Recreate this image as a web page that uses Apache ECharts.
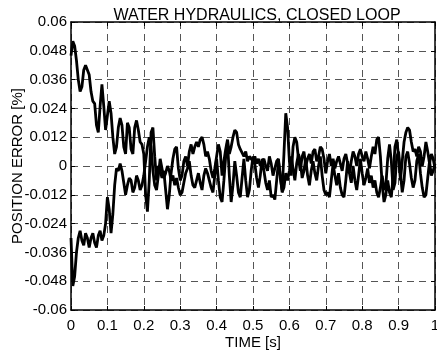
<!DOCTYPE html>
<html>
<head>
<meta charset="utf-8">
<script src="https://cdn.jsdelivr.net/npm/echarts@6/dist/echarts.min.js"></script>
<style>
  html, body { margin: 0; padding: 0; background: #fff; }
  #chart { width: 437px; height: 353px; }
</style>
</head>
<body>
<div id="chart"></div>
<script>
// Closed-loop position error of the water hydraulic servo, sampled every 5 ms
const sampleStep = 0.005;

// Response that starts above the set point
const errorFromAbove = [
  0.046, 0.052, 0.050, 0.044, 0.036, 0.031, 0.033, 0.040, 0.042, 0.040,
  0.038, 0.031, 0.027, 0.026, 0.017, 0.014, 0.025, 0.034, 0.025, 0.015,
  0.021, 0.027, 0.022, 0.012, 0.005, 0.008, 0.016, 0.020, 0.017, 0.008,
  0.005, 0.018, 0.016, 0.007, 0.005, 0.016, 0.019, 0.015, 0.010, 0.009,
  0.005, -0.012, -0.019, -0.006, 0.014, 0.016, 0.004, -0.006, 0.000, -0.002,
  -0.005, -0.002, -0.010, -0.018, -0.012, -0.003, 0.003, 0.007, 0.008, -0.001,
  -0.006, -0.004, 0.002, 0.004, 0.000, 0.006, 0.009, 0.005, 0.008, 0.010,
  0.008, 0.011, 0.012, 0.009, 0.004, 0.006, 0.003, -0.002, -0.005, -0.001,
  0.004, 0.009, 0.006, -0.004, 0.002, 0.007, 0.011, 0.005, 0.008, 0.012,
  0.015, 0.014, 0.009, 0.007, 0.007, 0.004, 0.006, 0.002, 0.004, 0.003,
  0.002, 0.004, 0.001, 0.003, 0.000, 0.002, 0.003, 0.000, -0.002, 0.004,
  0.001, -0.004, -0.001, 0.002, 0.003, -0.005, -0.010, 0.005, 0.022, 0.016,
  0.002, -0.004, 0.008, 0.012, 0.010, 0.003, -0.002, 0.004, 0.006, 0.000,
  0.003, 0.005, 0.001, 0.006, 0.007, 0.002, 0.004, 0.008, 0.007, 0.003,
  -0.003, 0.002, 0.005, 0.000, 0.003, -0.001, 0.002, 0.004, 0.001, -0.002,
  0.003, 0.005, 0.001, -0.003, 0.002, 0.006, 0.004, 0.000, 0.005, 0.007,
  0.004, 0.002, 0.006, 0.003, -0.001, 0.004, 0.008, 0.005, 0.011, 0.012,
  0.004, -0.008, -0.015, -0.012, -0.006, -0.011, -0.013, -0.004, 0.008, 0.011,
  0.004, -0.006, 0.002, 0.010, 0.014, 0.016, 0.015, 0.010, 0.006, 0.007,
  0.004, 0.008, 0.006, 0.000, 0.004, 0.010, 0.006, 0.001, 0.005, 0.003,
  -0.001
];

// Response that starts below the set point
const errorFromBelow = [
  -0.030, -0.050, -0.046, -0.036, -0.030, -0.027, -0.031, -0.033, -0.028, -0.030,
  -0.034, -0.030, -0.028, -0.032, -0.034, -0.029, -0.027, -0.031, -0.029, -0.024,
  -0.013, -0.018, -0.028, -0.020, -0.008, -0.001, -0.002, 0.001, -0.002, -0.007,
  -0.012, -0.008, -0.005, -0.006, -0.011, -0.009, -0.004, -0.006, -0.010, -0.008,
  -0.004, 0.002, 0.008, 0.012, 0.008, -0.002, -0.008, -0.010, -0.004, 0.003,
  -0.001, -0.005, -0.003, 0.000, -0.002, -0.006, -0.004, -0.008, -0.005, -0.009,
  -0.012, -0.011, -0.007, -0.003, -0.001, 0.002, -0.004, -0.008, -0.009, -0.006,
  -0.003, -0.007, -0.010, -0.004, -0.001, -0.003, -0.006, -0.009, -0.011, -0.004,
  0.003, -0.006, -0.013, -0.015, -0.006, 0.004, 0.010, -0.004, -0.015, -0.008,
  0.002, -0.004, -0.011, -0.013, -0.005, 0.003, -0.006, -0.013, -0.010, -0.002,
  0.004, 0.001, -0.005, -0.009, -0.004, 0.003, -0.002, -0.007, -0.010, -0.006,
  -0.013, -0.012, -0.014, -0.006, 0.002, -0.004, -0.011, -0.009, -0.003, -0.006,
  -0.002, 0.004, -0.001, -0.006, 0.001, 0.005, 0.002, -0.005, -0.002, 0.003,
  -0.004, -0.008, -0.002, 0.002, -0.003, -0.006, 0.000, 0.004, -0.004, -0.010,
  -0.012, -0.011, -0.013, -0.006, 0.001, -0.004, -0.008, -0.003, -0.009, -0.012,
  -0.013, -0.006, 0.002, -0.003, -0.007, 0.000, -0.006, -0.010, -0.004, 0.003,
  -0.003, -0.008, -0.005, -0.001, -0.007, -0.004, -0.009, -0.006, -0.011, -0.013,
  -0.009, -0.004, -0.010, -0.008, 0.003, 0.009, 0.002, -0.010, -0.007, 0.004,
  0.006, -0.003, -0.011, -0.006, 0.004, 0.006, 0.001, -0.005, -0.009, -0.006,
  0.002, 0.005, -0.003, -0.009, -0.013, -0.012, -0.005, 0.002, -0.004, -0.002,
  0.001
];

// Axis ticks
const timeTicks = ['0', '0.1', '0.2', '0.3', '0.4', '0.5', '0.6', '0.7', '0.8', '0.9', '1'];
const errorTicks = ['-0.06', '-0.048', '-0.036', '-0.024', '-0.012', '0', '0.012', '0.024', '0.036', '0.048', '0.06'];

const toPairs = vals => vals.map((v, i) => [+(i * sampleStep).toFixed(3), v]);

const FONT = '"Liberation Sans", Arial, sans-serif';
const gridDash = { color: '#555', width: 1, type: [7, 5] };

const chart = echarts.init(document.getElementById('chart'), null, { renderer: 'canvas' });

const baseX = {
  type: 'value', min: 0, max: 1, interval: 0.1,
  axisLine: { show: true, onZero: false, lineStyle: { color: '#000', width: 1.5 } },
  axisTick: { show: true, inside: true, length: 4, lineStyle: { color: '#000' } },
};
const baseY = {
  type: 'value', min: -0.06, max: 0.06, interval: 0.012,
  axisLine: { show: true, onZero: false, lineStyle: { color: '#000', width: 1.5 } },
  axisTick: { show: true, inside: true, length: 4, lineStyle: { color: '#000' } },
};

chart.setOption({
  animation: false,
  backgroundColor: '#fff',
  title: {
    text: 'WATER HYDRAULICS, CLOSED LOOP',
    left: 252, top: 3, textAlign: 'center',
    textStyle: { fontFamily: FONT, fontSize: 16, fontWeight: 'normal', color: '#000' }
  },
  grid: {
    left: 71, top: 22, width: 364, height: 288,
    containLabel: false, outerBoundsMode: 'none'
  },
  xAxis: [
    Object.assign({}, baseX, {
      position: 'bottom',
      name: 'TIME [s]', nameLocation: 'middle', nameGap: 25, nameMoveOverlap: false,
      nameTextStyle: { fontFamily: FONT, fontSize: 15, color: '#000' },
      axisLabel: {
        fontFamily: FONT, fontSize: 15, color: '#000', margin: 8,
        formatter: v => timeTicks[Math.round(v * 10)]
      },
      splitLine: { show: true, lineStyle: gridDash }
    }),
    Object.assign({}, baseX, {
      position: 'top',
      axisLabel: { show: false }, splitLine: { show: false }
    })
  ],
  yAxis: [
    Object.assign({}, baseY, {
      position: 'left',
      name: 'POSITION ERROR [%]', nameLocation: 'middle', nameGap: 46, nameMoveOverlap: false,
      nameTextStyle: { fontFamily: FONT, fontSize: 15, color: '#000' },
      axisLabel: {
        fontFamily: FONT, fontSize: 15, color: '#000', margin: 4,
        formatter: v => errorTicks[Math.round((v + 0.06) / 0.012)]
      },
      splitLine: { show: true, lineStyle: gridDash }
    }),
    Object.assign({}, baseY, {
      position: 'right',
      axisLabel: { show: false }, splitLine: { show: false }
    })
  ],
  series: [
    {
      type: 'line', data: toPairs(errorFromAbove), showSymbol: false,
      lineStyle: { color: '#000', width: 2.8 }, z: 3
    },
    {
      type: 'line', data: toPairs(errorFromBelow), showSymbol: false,
      lineStyle: { color: '#000', width: 2.8 }, z: 3
    }
  ]
});
</script>
</body>
</html>
